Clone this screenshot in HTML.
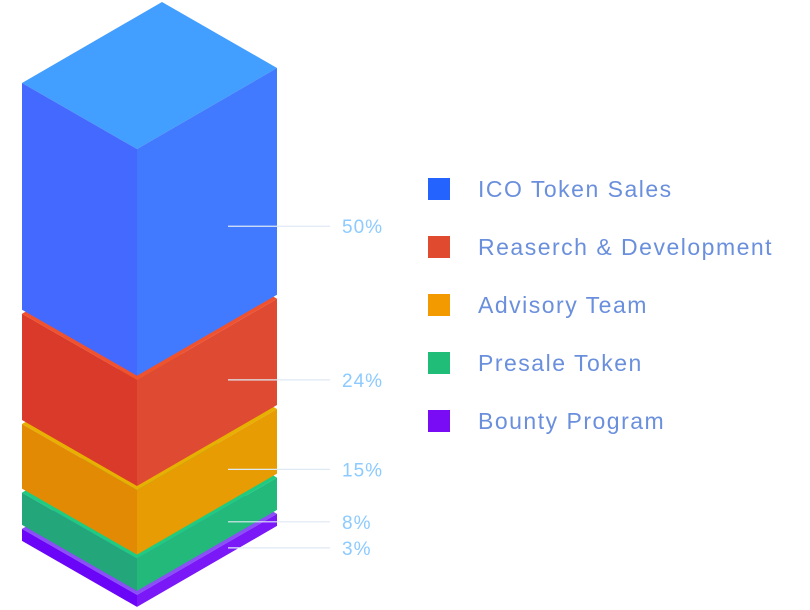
<!DOCTYPE html>
<html><head><meta charset="utf-8"><style>
html,body{margin:0;padding:0;background:#fff;width:810px;height:610px;overflow:hidden}
svg{display:block;font-family:"Liberation Sans",sans-serif}
</style></head><body>
<svg id="chart" width="810" height="610"></svg>
<script>
const categories = ["ICO Token Sales","Reaserch & Development","Advisory Team","Presale Token","Bounty Program"];
const values = [50,24,15,8,3];
const valueLabels = ["50%","24%","15%","8%","3%"];
const legendColors = ["#2563ff","#e04a2f","#f29a00","#1fbd78","#7a0cf5"];
const leftColors = ["#4469ff","#da3a2a","#e38a05","#22a67a","#6b05f7"];
const rightColors = ["#427aff","#df4a32","#e69c02","#22b97a","#7a18f7"];
const topColors = ["#429eff","#f0522e","#e8b000","#1ecb80","#8a4ff5"];

const NS = "http://www.w3.org/2000/svg";
const svg = document.getElementById("chart");
const FX = 137, LX = 22, RX = 277, LOFF = -66, ROFF = -81, TOPY = 149, GAP = 4;
function hScale(v){ return Math.max(12, 4.63 * v - 4.8); }

function mk(tag, attrs){ const e = document.createElementNS(NS, tag); for (const k in attrs) e.setAttribute(k, attrs[k]); return e; }

const tops = []; let y = TOPY;
values.forEach(v => { tops.push(y); y += hScale(v) + GAP; });

for (let i = values.length-1; i >= 0; i--) {
  const y0 = tops[i], y1 = y0 + hScale(values[i]);
  const g = mk("g", {});
  
  
  const back = `${LX + (RX-FX)},${y0 + LOFF + ROFF}`;
  const top = mk("polygon", {points: `${FX},${y0} ${LX},${y0+LOFF} ${back} ${RX},${y0+ROFF}`, fill: topColors[i]});
  
  
  const left = mk("polygon", {points: `${FX},${y0} ${LX},${y0+LOFF} ${LX},${y1+LOFF} ${FX},${y1}`, fill: leftColors[i]});
  
  
  const right = mk("polygon", {points: `${FX},${y0} ${RX},${y0+ROFF} ${RX},${y1+ROFF} ${FX},${y1}`, fill: rightColors[i]});
  
  
  g.appendChild(top); g.appendChild(left); g.appendChild(right);
  svg.appendChild(g);
}

values.forEach((v,i) => {
  const h = hScale(v);
  const mid = tops[i] + h/2;
  const ly = mid - 53 + Math.max(0, h - 150) * 0.22;
  const line = mk("line", {x1:228, x2:330, y1:ly, y2:ly, stroke:"#dfe9f4", "stroke-width":1.2});
  
  
  svg.appendChild(line);
  const t = mk("text", {x:342, y:ly+7, fill:"#8ccaff", "font-size":19, "letter-spacing":1});
  t.textContent = valueLabels[i];
  
  
  svg.appendChild(t);
});

categories.forEach((c,i) => {
  const cy = 189 + i*58;
  const g = mk("g", {});
  
  
  const r = mk("rect", {x:428, y:cy-11, width:22, height:22, fill:legendColors[i]});
  
  
  const t = mk("text", {x:478, y:cy+8, fill:"#6a8fdc", "font-size":23, "letter-spacing":1.5});
  t.textContent = c;
  
  
  g.appendChild(r); g.appendChild(t);
  svg.appendChild(g);
});
</script>
</body></html>
